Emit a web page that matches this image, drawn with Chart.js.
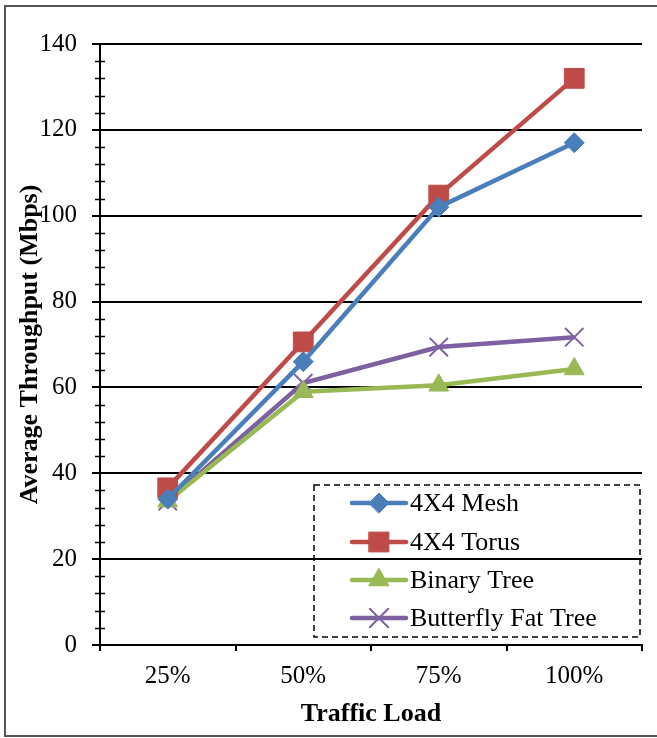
<!DOCTYPE html>
<html>
<head>
<meta charset="utf-8">
<script src="https://cdn.jsdelivr.net/npm/chart.js@4"></script>
<style>
  html, body { margin: 0; padding: 0; background: #fff; }
  #wrap { width: 657px; height: 738px; }
</style>
</head>
<body>
<div id="wrap"><canvas id="chart" width="657" height="738"></canvas></div>
<script>
// datos
const loads = ['25%', '50%', '75%', '100%'];
const meshVals = [34, 66, 102, 117];
const torusVals = [36.6, 70.6, 104.8, 132];
const binaryVals = [33.5, 59, 60.5, 64.3];
const bftVals = [33.5, 61, 69.4, 71.7];
const yTicks = [0, 20, 40, 60, 80, 100, 120, 140];

const serif = '"Liberation Serif", "Times New Roman", serif';

// marco exterior, ticks menores del eje y y leyenda con borde punteado
const extras = {
  id: 'extras',
  afterDraw(chart) {
    const ctx = chart.ctx;
    const y = chart.scales.y;
    ctx.save();
    ctx.strokeStyle = '#555';
    ctx.lineWidth = 2;
    ctx.strokeRect(5, 6, 700, 730);

    ctx.strokeStyle = '#000';
    ctx.lineWidth = 1.5;
    for (let v = 0; v <= 140; v += 4) {
      if (v % 20 === 0) continue;
      const py = Math.round(y.getPixelForValue(v)) + 0.5;
      ctx.beginPath();
      ctx.moveTo(y.right - 5, py);
      ctx.lineTo(y.right + 5, py);
      ctx.stroke();
    }

    // leyenda
    ctx.setLineDash([6, 4]);
    ctx.lineWidth = 1.5;
    ctx.strokeRect(314, 485, 326, 152);
    ctx.setLineDash([]);
    const rows = [503, 542, 580, 618];
    chart.data.datasets.forEach((ds, i) => {
      const ry = rows[i];
      ctx.strokeStyle = ds.borderColor;
      ctx.fillStyle = ds.borderColor;
      ctx.lineWidth = 4.5;
      ctx.lineCap = 'round';
      ctx.beginPath();
      ctx.moveTo(352, ry);
      ctx.lineTo(406, ry);
      ctx.stroke();
      ctx.lineWidth = ds.pointBorderWidth || 1;
      Chart.helpers.drawPoint(ctx, {
        pointStyle: ds.pointStyle,
        radius: ds.pointRadius,
        borderWidth: ds.pointBorderWidth || 1
      }, 379, ry);
      ctx.fillStyle = '#000';
      ctx.font = '26px ' + serif;
      ctx.textBaseline = 'middle';
      ctx.fillText(ds.label, 410, ry + 1);
    });
    ctx.restore();
  }
};

function series(label, data, color, style, radius, extra) {
  return Object.assign({
    label: label,
    data: data,
    borderColor: color,
    backgroundColor: color,
    pointBackgroundColor: color,
    pointBorderColor: color,
    borderWidth: 4.5,
    pointStyle: style,
    pointRadius: radius,
    pointHoverRadius: radius,
    pointBorderWidth: 1,
    tension: 0,
    fill: false
  }, extra || {});
}

new Chart(document.getElementById('chart'), {
  type: 'line',
  data: {
    labels: loads,
    datasets: [
      series('4X4 Mesh', meshVals, '#4a7ebb', 'rectRot', 10),
      series('4X4 Torus', torusVals, '#be4b48', 'rect', 14),
      series('Binary Tree', binaryVals, '#98b954', 'triangle', 11.5),
      series('Butterfly Fat Tree', bftVals, '#7d60a0', 'crossRot', 13, { pointBorderWidth: 2 })
    ]
  },
  plugins: [extras],
  options: {
    responsive: false,
    animation: false,
    devicePixelRatio: 1,
    layout: { padding: { top: 44, right: 5, left: 0, bottom: 0 } },
    plugins: {
      legend: { display: false },
      tooltip: { enabled: false }
    },
    scales: {
      x: {
        type: 'category',
        offset: true,
        afterFit: (s) => { s.height = 93; },
        border: { display: true, color: '#000', width: 2 },
        grid: { offset: true, drawOnChartArea: false, drawTicks: true, tickLength: 6, color: '#000', lineWidth: 2 },
        ticks: { color: '#000', padding: 10, font: { family: serif, size: 25 } },
        title: {
          display: true,
          text: 'Traffic Load',
          color: '#000',
          padding: { top: 0, bottom: 8 },
          font: { family: serif, size: 26, weight: 'bold' }
        }
      },
      y: {
        min: 0,
        max: 140,
        afterFit: (s) => { s.width = 100; },
        afterBuildTicks: (s) => { s.ticks = yTicks.map((v) => ({ value: v })); },
        border: { display: true, color: '#000', width: 2 },
        grid: { color: '#000', lineWidth: 2, drawTicks: true, tickLength: 8 },
        ticks: { color: '#000', padding: 15, font: { family: serif, size: 25 } },
        title: {
          display: true,
          text: 'Average Throughput (Mbps)',
          color: '#000',
          padding: { top: 15, bottom: 0 },
          font: { family: serif, size: 26, weight: 'bold' }
        }
      }
    }
  }
});
</script>
</body>
</html>
